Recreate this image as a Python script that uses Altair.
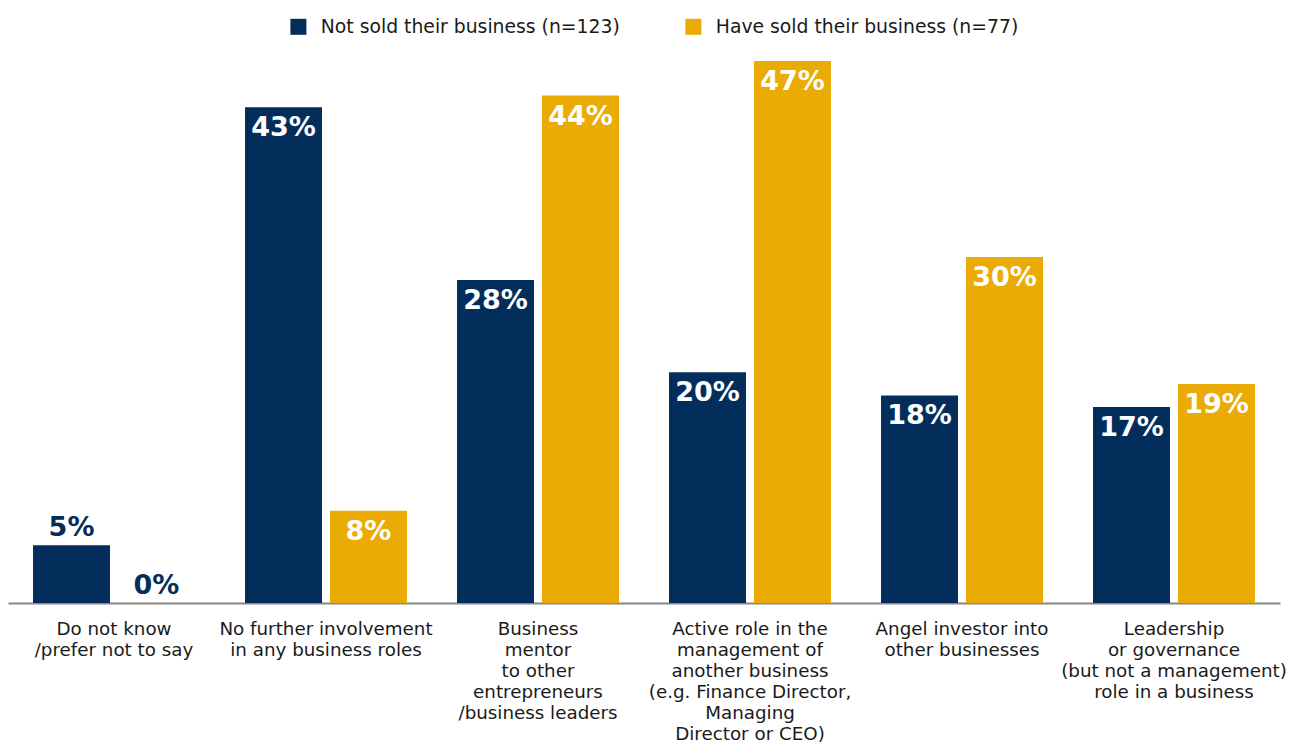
import altair as alt
import pandas as pd

categories = [
    "Do not know|/prefer not to say",
    "No further involvement|in any business roles",
    "Business|mentor|to other|entrepreneurs|/business leaders",
    "Active role in the|management  of|another business|(e.g. Finance Director,|Managing|Director or CEO)",
    "Angel investor into|other businesses",
    "Leadership|or governance|(but not a management)|role in a business",
]
series = ["Not sold their business (n=123)", "Have sold their business (n=77)"]
not_sold = [5, 43, 28, 20, 18, 17]
have_sold = [0, 8, 44, 47, 30, 19]
colors = ["#032E5B", "#EAAB04"]

rows = []
for i, c in enumerate(categories):
    rows.append({"cat": c, "series": series[0], "value": not_sold[i]})
    rows.append({"cat": c, "series": series[1], "value": have_sold[i]})
df = pd.DataFrame(rows)

txtfont = "DejaVu Sans"

x = alt.X("cat:N", sort=categories, title=None,
          scale=alt.Scale(paddingInner=0.236, paddingOuter=0.118),
          axis=alt.Axis(labelAngle=0, labelExpr="split(datum.label, '|')",
                        labelFont=txtfont, labelFontSize=18.3, labelColor="#1a1a1a",
                        labelLineHeight=21, labelPadding=17, ticks=False,
                        domainColor="#888888", domainWidth=2, labelLimit=400))
xoff = alt.XOffset("series:N", sort=series,
                   scale=alt.Scale(paddingInner=0.094, paddingOuter=0))
y = alt.Y("value:Q", scale=alt.Scale(domain=[0, 47], nice=False), axis=None, title=None)

base = alt.Chart(df)

bars = base.mark_bar().encode(
    x=x, xOffset=xoff, y=y,
    color=alt.Color("series:N", sort=series,
                    scale=alt.Scale(domain=series, range=colors),
                    legend=alt.Legend(title=None, orient="none", legendX=281, legendY=-44,
                                      direction="horizontal", symbolType="square",
                                      symbolSize=256, symbolStrokeWidth=0,
                                      labelFont=txtfont, labelFontSize=18.8,
                                      labelColor="#1a1a1a", labelOffset=13,
                                      columnPadding=64, labelLimit=400)),
)

inside = base.transform_filter("datum.value >= 8").mark_text(
    baseline="top", dy=8, font="DejaVu Sans", fontWeight="bold", fontSize=27, color="white"
).encode(x=x, xOffset=xoff, y=y, text=alt.Text("label:N")).transform_calculate(
    label="datum.value + '%'")

outside = base.transform_filter("datum.value < 8").mark_text(
    baseline="bottom", dy=-3, font="DejaVu Sans", fontWeight="bold", fontSize=27, color="#032E5B"
).encode(x=x, xOffset=xoff, y=y, text=alt.Text("label:N")).transform_calculate(
    label="datum.value + '%'")

chart = alt.layer(bars, inside, outside).properties(
    width=1272, height=542,
    autosize=alt.AutoSizeParams(type="none"),
    padding={"left": 8, "top": 61, "right": 19, "bottom": 141},
    view=alt.ViewBackground(stroke="transparent", strokeWidth=0),
).configure_view(stroke="transparent", strokeWidth=0).configure(background="white")

chart.save("out.html", embed_options={"renderer": "svg", "actions": False})
